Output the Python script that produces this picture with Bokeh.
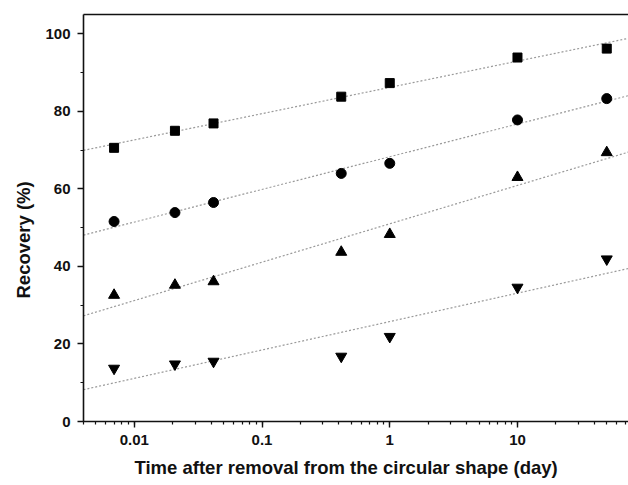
import numpy as np
from bokeh.plotting import figure
from bokeh.models import (LinearAxis, Range1d, SingleIntervalTicker, LogTicker, Title,
                          CustomJSTickFormatter, FixedTicker, ColumnDataSource)
from bokeh.embed import file_html
from bokeh.resources import INLINE

# Time after removal (day): 10 min, 30 min, 1 h, 10 h, 1 d, 10 d, 50 d
time_day = [0.00694, 0.0208, 0.0417, 0.417, 1.0, 10.0, 50.0]
series_square = [70.6, 75.0, 76.9, 83.8, 87.3, 93.9, 96.2]
series_circle = [51.6, 53.9, 56.5, 64.0, 66.6, 77.8, 83.3]
series_triangle = [32.6, 35.2, 36.1, 43.7, 48.3, 63.0, 69.4]
series_inv_triangle = [13.7, 14.8, 15.5, 16.8, 21.9, 34.6, 41.9]
x_title = "Time after removal from the circular shape (day)"
y_title = "Recovery (%)"

x_start, x_end = 0.004, 74.0
y_start, y_end = 0, 105

FONT = "Liberation Sans"

p = figure(width=628, height=485, x_axis_type="log",
           x_range=Range1d(x_start, x_end), y_range=Range1d(y_start, y_end),
           output_backend="svg", toolbar_location=None,
           min_border_left=83, min_border_right=0, min_border_top=14, min_border_bottom=64)
p.outline_line_color = None
p.xgrid.visible = False
p.ygrid.visible = False
p.background_fill_color = "white"
p.border_fill_color = "white"

# fit lines (regression of recovery vs log10 time)
lx = np.log10(np.array(time_day))
xs_line = np.array([x_start, x_end])
for ys in (series_square, series_circle, series_triangle, series_inv_triangle):
    k, b = np.polyfit(lx, np.array(ys), 1)
    p.line(xs_line, k * np.log10(xs_line) + b, line_color="#9a9a9a", line_width=1.2,
           line_dash="2 2")

src = ColumnDataSource(dict(x=time_day, sq=series_square, ci=series_circle,
                            tr=series_triangle, it=series_inv_triangle))
p.scatter("x", "sq", source=src, marker="square", size=9, color="black")
p.scatter("x", "ci", source=src, marker="circle", size=10, color="black")
p.scatter("x", "tr", source=src, marker="triangle", size=11, color="black")
p.scatter("x", "it", source=src, marker="inverted_triangle", size=11, color="black")

xa = p.xaxis[0]
xa.ticker = LogTicker(mantissas=[1], num_minor_ticks=10)
xa.formatter = CustomJSTickFormatter(code="return String(Number(tick.toPrecision(6)));")
ya = p.yaxis[0]
ya.ticker = SingleIntervalTicker(interval=20, num_minor_ticks=2)

for ax in (xa, ya):
    ax.axis_line_width = 1.6
    ax.axis_line_color = "#111111"
    ax.major_tick_line_width = 1.4
    ax.minor_tick_line_width = 1.2
    ax.major_tick_line_color = "#111111"
    ax.minor_tick_line_color = "#111111"
    ax.major_tick_out = 6
    ax.major_tick_in = 0
    ax.minor_tick_out = 3
    ax.minor_tick_in = 0
    ax.major_label_text_font = FONT
    ax.major_label_text_font_style = "bold"
    ax.major_label_text_font_size = "15px"
    ax.major_label_text_color = "#111111"
    ax.major_label_standoff = 7

top = LinearAxis(ticker=FixedTicker(ticks=[]), major_label_text_font_size="0px",
                 axis_line_width=1.6, axis_line_color="#111111",
                 major_tick_line_color=None, minor_tick_line_color=None)
p.add_layout(top, "above")

# axis titles as side titles, offset to sit where the reference has them
p.add_layout(Title(text=x_title, align="left", offset=51, standoff=14,
                   text_font=FONT, text_font_style="bold", text_font_size="18.5px",
                   text_color="#111111"), "below")
p.add_layout(Title(text=y_title, align="left", offset=123, standoff=18,
                   text_font=FONT, text_font_style="bold", text_font_size="18.5px",
                   text_color="#111111"), "left")

open("out.html", "w").write(file_html(p, INLINE))
